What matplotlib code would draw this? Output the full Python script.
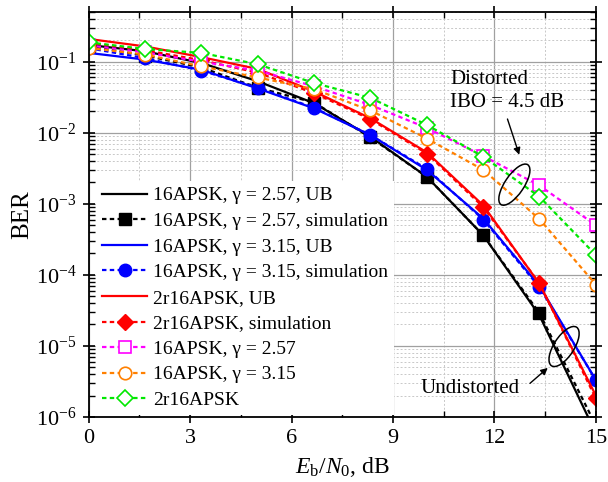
import matplotlib
matplotlib.use('Agg')
import matplotlib.pyplot as plt
import matplotlib.transforms as mtransforms
from matplotlib.patches import Ellipse
from matplotlib.ticker import LogLocator, MultipleLocator, NullFormatter

plt.rcParams.update({
    'font.family': 'Liberation Serif',
    'mathtext.fontset': 'custom',
    'mathtext.rm': 'Liberation Serif',
    'mathtext.it': 'Liberation Serif:italic',
    'font.size': 16,
})

# Eb/N0 points (dB)
ebn0 = [0, 1.67, 3.33, 5, 6.67, 8.33, 10, 11.67, 13.33, 15]

# undistorted: union bound and simulation
ub_16a257 = [0.172, 0.14, 0.096, 0.053, 0.026, 0.0088, 0.0024, 0.00036, 2.7e-5, 5.9e-7]
sim_16a257 = [0.165, 0.122, 0.083, 0.043, 0.0266, 0.0086, 0.0024, 0.00036, 2.9e-5, 7.6e-7]
ub_16a315 = [0.133, 0.107, 0.077, 0.042, 0.022, 0.0093, 0.0030, 0.00062, 7.0e-5, 3.3e-6]
sim_16a315 = [0.155, 0.112, 0.075, 0.043, 0.0224, 0.0093, 0.0031, 0.00060, 6.7e-5, 3.3e-6]
ub_2r16 = [0.209, 0.164, 0.116, 0.079, 0.038, 0.016, 0.0053, 0.00095, 7.5e-5, 2.0e-6]
sim_2r16 = [0.185, 0.145, 0.105, 0.070, 0.036, 0.0155, 0.0051, 0.00090, 7.6e-5, 1.82e-6]

# distorted, IBO = 4.5 dB
dist_16a257 = [0.17, 0.135, 0.10, 0.075, 0.045, 0.0246, 0.0117, 0.0047, 0.00181, 0.00050]
dist_16a315 = [0.156, 0.126, 0.086, 0.060, 0.041, 0.0206, 0.0083, 0.0030, 0.00061, 7.3e-5]
dist_2r16 = [0.187, 0.151, 0.133, 0.092, 0.050, 0.031, 0.0129, 0.0046, 0.00126, 0.00019]

fig = plt.figure(figsize=(6.08, 4.82), dpi=100)
fig.subplots_adjust(left=0.146, right=0.980, bottom=0.135, top=0.975)
ax = fig.add_subplot(111)

dash = (0, (2, 1.5))
ms = 9

ax.plot(ebn0, ub_16a257, '-', color='k', lw=1.6, label='16APSK, γ = 2.57, UB')
ax.plot(ebn0, sim_16a257, linestyle=dash, color='k', lw=1.6, marker='s', ms=ms - 1,
        label='16APSK, γ = 2.57, simulation')
ax.plot(ebn0, ub_16a315, '-', color='#0000ff', lw=1.6, label='16APSK, γ = 3.15, UB')
ax.plot(ebn0, sim_16a315, linestyle=dash, color='#0000ff', lw=1.6, marker='o', ms=ms,
        label='16APSK, γ = 3.15, simulation')
ax.plot(ebn0, ub_2r16, '-', color='#ff0000', lw=1.6, label='2r16APSK, UB')
ax.plot(ebn0, sim_2r16, linestyle=dash, color='#ff0000', lw=1.6, marker='D', ms=ms - 1,
        label='2r16APSK, simulation')
ax.plot(ebn0, dist_16a257, linestyle=dash, color='#ff00ff', lw=1.6, marker='s', ms=ms - 1,
        mfc='white', mew=1.2, label='16APSK, γ = 2.57')
ax.plot(ebn0, dist_16a315, linestyle=dash, color='#ff8000', lw=1.6, marker='o', ms=ms,
        mfc='white', mew=1.2, label='16APSK, γ = 3.15')
ax.plot(ebn0, dist_2r16, linestyle=dash, color='#00e800', lw=1.6, marker='D', ms=ms - 1,
        mfc='white', mew=1.2, label='2r16APSK')

ax.set_yscale('log')
ax.set_xlim(0, 15)
ax.set_ylim(1e-6, 0.5)
ax.xaxis.set_major_locator(MultipleLocator(3))
ax.xaxis.set_minor_locator(MultipleLocator(1.5))
ax.yaxis.set_major_locator(LogLocator(base=10, numticks=20))
ax.yaxis.set_minor_locator(LogLocator(base=10, subs=range(2, 10), numticks=20))
ax.yaxis.set_minor_formatter(NullFormatter())

ax.grid(which='major', color='#a0a0a0', lw=0.9, ls='-')
ax.grid(which='minor', color='#c8c8c8', lw=0.7, ls=(0, (2, 2)))
ax.set_axisbelow(True)

ax.tick_params(which='major', direction='inout', length=8, width=1.2,
               top=True, right=True, labelsize=16, pad=5)
ax.tick_params(which='minor', direction='in', length=4, width=1.0,
               top=True, right=True)
for s in ax.spines.values():
    s.set_linewidth(1.3)

ax.set_xlabel(r'$E_{\mathrm{b}}/N_0$, dB', fontsize=17, labelpad=5)
ax.set_ylabel('BER', fontsize=18, labelpad=2)

leg = ax.legend(loc='lower left', bbox_to_anchor=(0.015, 0.005), borderaxespad=0,
                fontsize=14, labelspacing=0.41, handlelength=2.3, handletextpad=0.3,
                borderpad=0.3, framealpha=1, fancybox=False)
leg.get_frame().set_edgecolor('none')

# distorted annotation
trans1 = fig.dpi_scale_trans + mtransforms.ScaledTranslation(12.59, 1.86e-3, ax.transData)
ax.add_patch(Ellipse((0, 0), 0.48, 0.19, angle=56, fill=False, lw=1.1, color='k',
                     transform=trans1, zorder=5))
ax.annotate('', xy=(12.76, 4.5e-3), xytext=(12.36, 1.7e-2),
            arrowprops=dict(arrowstyle='-|>', color='k', lw=1.0, mutation_scale=10))
ax.text(10.69, 1.95e-2, 'Distorted\nIBO = 4.5 dB', fontsize=15, ha='left', va='bottom',
        linespacing=1.3, zorder=6)

# undistorted annotation
trans2 = fig.dpi_scale_trans + mtransforms.ScaledTranslation(14.06, 9.8e-6, ax.transData)
ax.add_patch(Ellipse((0, 0), 0.46, 0.20, angle=57, fill=False, lw=1.1, color='k',
                     transform=trans2, zorder=5))
ax.annotate('', xy=(13.64, 5.2e-6), xytext=(12.99, 2.8e-6),
            arrowprops=dict(arrowstyle='-|>', color='k', lw=1.0, mutation_scale=10))
ax.text(12.75, 2.5e-6, 'Undistorted', fontsize=15, ha='right', va='center', zorder=6)

fig.savefig('out.png', dpi=100)
